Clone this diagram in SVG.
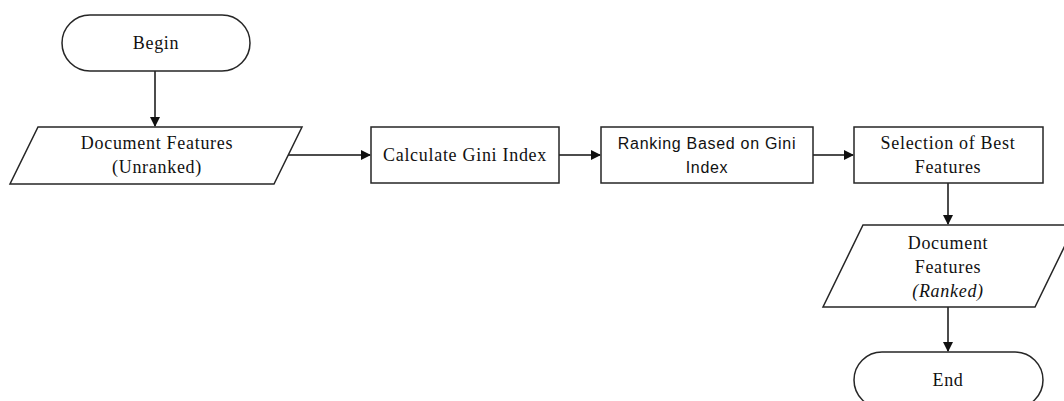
<svg xmlns="http://www.w3.org/2000/svg" width="1064" height="401" viewBox="0 0 1064 401">
<style>
.s{fill:#fff;stroke:#262626;stroke-width:1.5}
.t{font-family:"Liberation Serif",serif;font-size:18px;fill:#111;text-anchor:middle;letter-spacing:0.7px}
.c{font-family:"Liberation Sans",sans-serif;font-size:16px;fill:#111;text-anchor:middle;letter-spacing:0.7px}
.l{fill:none;stroke:#111;stroke-width:1.5}
</style>
<defs>
<marker id="a" markerWidth="10" markerHeight="10" refX="9" refY="5" orient="auto" markerUnits="userSpaceOnUse">
<path d="M0,0 L10,5 L0,10 z" fill="#111"/>
</marker>
</defs>
<rect width="1064" height="401" fill="#fff"/>
<g id="connectors">
<path class="l" d="M155,71 V126" marker-end="url(#a)"/>
<path class="l" d="M288,155 H370" marker-end="url(#a)"/>
<path class="l" d="M559,155 H600" marker-end="url(#a)"/>
<path class="l" d="M813,155 H853" marker-end="url(#a)"/>
<path class="l" d="M948,183 V224" marker-end="url(#a)"/>
<path class="l" d="M948,307 V351" marker-end="url(#a)"/>
</g>
<g id="begin">
<rect class="s" x="62" y="15" width="188" height="56" rx="28"/>
<text class="t" x="156" y="49">Begin</text>
</g>
<g id="docUnranked">
<polygon class="s" points="38,127 302,127 274,184 10,184"/>
<text class="t" x="157" y="149">Document Features</text>
<text class="t" x="157" y="173">(Unranked)</text>
</g>
<g id="calcGini">
<rect class="s" x="371" y="127" width="188" height="56"/>
<text class="t" x="465" y="161">Calculate Gini Index</text>
</g>
<g id="ranking">
<rect class="s" x="601" y="127" width="212" height="56"/>
<text class="c" x="707" y="149">Ranking Based on Gini</text>
<text class="c" x="707" y="173">Index</text>
</g>
<g id="selection">
<rect class="s" x="854" y="127" width="189" height="56"/>
<text class="t" x="948" y="149">Selection of Best</text>
<text class="t" x="948" y="173">Features</text>
</g>
<g id="docRanked">
<polygon class="s" points="863,225 1075,225 1035,307 823,307"/>
<text class="t" x="948" y="249">Document</text>
<text class="t" x="948" y="273">Features</text>
<text class="t" x="948" y="297" font-style="italic">(Ranked)</text>
</g>
<g id="end">
<rect class="s" x="854" y="352" width="189" height="56" rx="28"/>
<text class="t" x="948" y="386">End</text>
</g>
</svg>
